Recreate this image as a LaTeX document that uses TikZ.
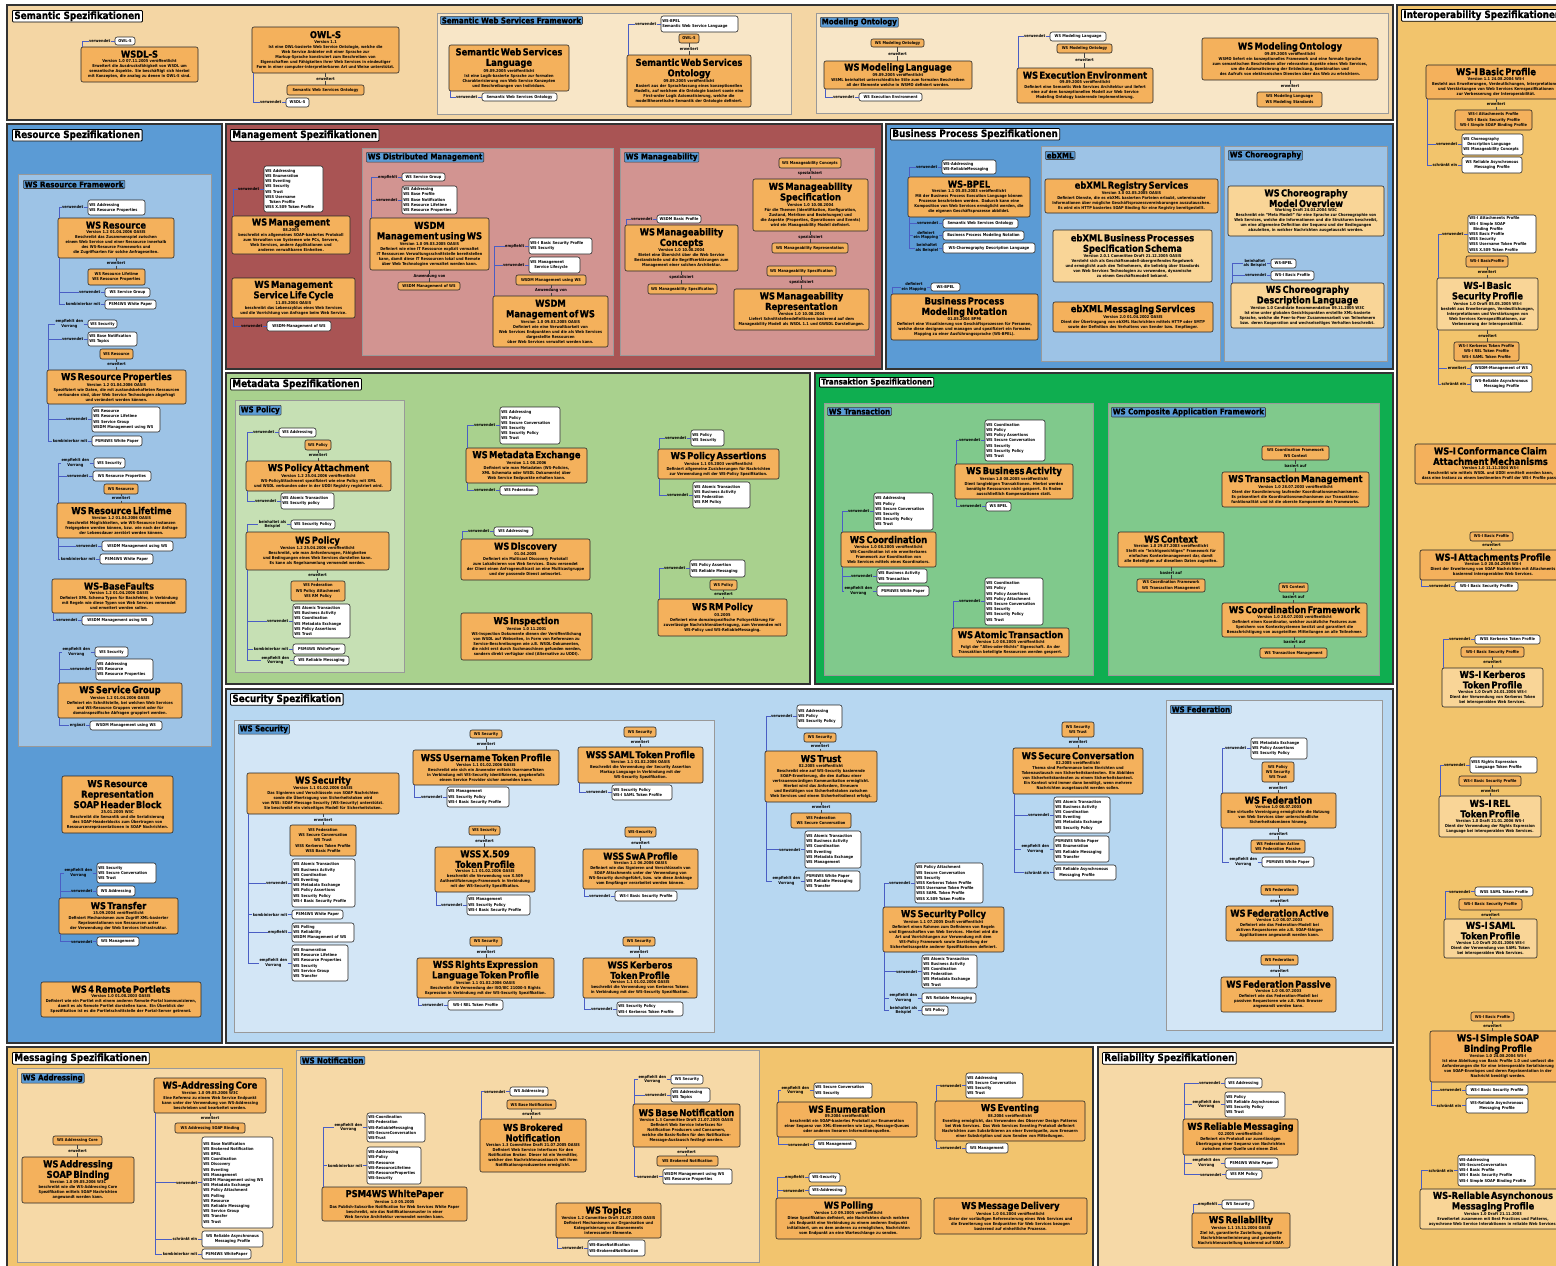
\documentclass[tikz,border=0pt]{standalone}
\usepackage{fontspec}
\setmainfont{DejaVu Sans}[FakeStretch=0.88]
\newfontfamily\heavy{DejaVu Sans}[FakeStretch=0.88, FakeBold=1]
\usetikzlibrary{calc}
\definecolor{orb}{HTML}{F4B15C}
\definecolor{orl}{HTML}{F9D597}
\definecolor{tagb}{HTML}{5B9BD5}
\definecolor{cnc}{HTML}{4A5EC4}
\definecolor{psem}{HTML}{F4D6A4}
\definecolor{psems}{HTML}{F8E6C7}
\definecolor{pint}{HTML}{F2C46C}
\definecolor{pres}{HTML}{5B9BD5}
\definecolor{press}{HTML}{9DC3E6}
\definecolor{pman}{HTML}{A95454}
\definecolor{pmans}{HTML}{D29491}
\definecolor{pmet}{HTML}{A9D18E}
\definecolor{pmets}{HTML}{C6E0B4}
\definecolor{ptra}{HTML}{0FAE50}
\definecolor{ptras}{HTML}{80C98C}
\definecolor{psec}{HTML}{B7D7F1}
\definecolor{psecs}{HTML}{D3E6F6}
\definecolor{pmsg}{HTML}{F2C46E}
\definecolor{pmsgs}{HTML}{F6D9A7}
\definecolor{prel}{HTML}{F6D9A7}
\newcommand{\fntT}{\heavy\bfseries\fontsize{9.5}{10.5}\selectfont}
\newcommand{\fntD}{\bfseries\fontsize{4}{5}\selectfont}
\newcommand{\fntS}{\bfseries\fontsize{4}{5.2}\selectfont}
\newcommand{\fntL}{\bfseries\fontsize{4}{4.6}\selectfont}
\newcommand{\fntG}{\heavy\bfseries\fontsize{8}{9}\selectfont}
\newcommand{\fntP}{\heavy\bfseries\fontsize{10}{11}\selectfont}
\newcommand{\btl}[1]{{\fntT #1\par}}
\newcommand{\mkbox}[7]{%
  \pgfmathsetlengthmacro\bxw{(#5-#3)*1pt}%
  \pgfmathsetlengthmacro\bxh{(#6-#4)*1pt}%
  \pgfmathsetlengthmacro\bxt{(#5-#3-2.6)*1pt}%
  \node[#1, minimum width=\bxw, minimum height=\bxh, text width=\bxt] (#2) at ({(#3+#5)/2},{(#4+#6)/2}) {#7};}
\newcommand{\mkrel}[4]{%
  \node[lbl, anchor=east] (#3l) at ([xshift=-4pt]#3.west) {#4};
  \draw[cnx] ([xshift=1.5pt]#1.#2) |- (#3l.west);
  \draw[cnx] (#3l.east) -- (#3.west);}
\newcommand{\mkext}[4]{%
  \path (#1.south) -- (#1.south |- #2.north) node[lbl, midway] (#4) {#3};
  \draw[cvx] (#1.south) -- (#4.north);
  \draw[cvx] (#4.south) -- (#4.south |- #2.north);}
\tikzset{
 obx/.style={draw=black!85, fill=orb, rounded corners=2pt, line width=0.6pt, inner xsep=1pt, inner ysep=1pt, align=center, font=\fntD},
 lbx/.style={obx, fill=orl},
 osx/.style={obx, font=\fntS},
 wbx/.style={draw=black!85, fill=white, rounded corners=2.2pt, line width=0.6pt, inner xsep=1.3pt, inner ysep=0.8pt, align=left, font=\fntS},
 wcx/.style={wbx, align=center},
 tagx/.style={draw=black!75, fill=tagb, rounded corners=1pt, line width=0.6pt, inner xsep=1.5pt, inner ysep=1pt, font=\fntG, anchor=north west},
 ptx/.style={draw=black, fill=white, rounded corners=1pt, line width=0.8pt, inner xsep=2pt, inner ysep=1pt, font=\fntP, anchor=north west},
 lbl/.style={inner sep=0.3pt, align=center, font=\fntL},
 cnx/.style={draw=cnc, line width=0.6pt},
 cvx/.style={draw=black!75, line width=0.6pt},
 panl/.style={draw=black!80, line width=1.2pt},
 subp/.style={draw=black!40, line width=1pt},
}
\begin{document}
\begin{tikzpicture}[x=1pt,y=-1pt]
\useasboundingbox (0,0) rectangle (1556,1266);
\clip (0,0) rectangle (1556,1266);
\fill[white] (0,0) rectangle (1556,1266);
% ---------------- panels
\filldraw[panl, fill=psem] (7,5) rectangle (1393,120);
\filldraw[panl, fill=pint] (1397,5) rectangle (1562,1272);
\filldraw[panl, fill=pres] (7,124) rectangle (222,1043);
\filldraw[panl, fill=pman] (226,124) rectangle (882,369);
\filldraw[panl, fill=pres] (886,124) rectangle (1393,369);
\filldraw[panl, fill=pmet] (226,373) rectangle (810,684);
\filldraw[panl, fill=ptra] (815,373) rectangle (1393,684);
\filldraw[panl, fill=psec] (226,689) rectangle (1393,1043);
\filldraw[panl, fill=pmsg] (7,1047) rectangle (1093,1272);
\filldraw[panl, fill=prel] (1098,1047) rectangle (1393,1272);
% ---------------- sub panels
\filldraw[subp, fill=psems] (437,13) rectangle (791,114);
\filldraw[subp, fill=psems] (816,13) rectangle (1388,113);
\filldraw[subp, fill=press] (18,174) rectangle (211,746);
\filldraw[subp, fill=pmans] (362,148) rectangle (613,355);
\filldraw[subp, fill=pmans] (620,148) rectangle (874,355);
\filldraw[subp, fill=press] (1041,146) rectangle (1220,361);
\filldraw[subp, fill=press] (1224,146) rectangle (1387,361);
\filldraw[subp, fill=pmets] (235,400) rectangle (404,672);
\filldraw[subp, fill=ptras] (824,403) rectangle (1093,675);
\filldraw[subp, fill=ptras] (1108,403) rectangle (1379,675);
\filldraw[subp, fill=psecs] (234,720) rectangle (714,1032);
\filldraw[subp, fill=psecs] (1166,700) rectangle (1382,1030);
\filldraw[subp, fill=pmsgs] (17,1068) rectangle (282,1262);
\filldraw[subp, fill=pmsgs] (296,1050) rectangle (759,1262);
% ---------------- panel titles
\node[ptx] (tSem) at (12,10) {Semantic Spezifikationen};
\node[ptx] (tInt) at (1401,9) {Interoperability Spezifikationen};
\node[ptx] (tRes) at (12,129) {Resource Spezifikationen};
\node[ptx] (tMan) at (230,129) {Management Spezifikationen};
\node[ptx] (tBus) at (890,128) {Business Process Spezifikationen};
\node[ptx] (tMet) at (230,378) {Metadata Spezifikationen};
\node[ptx, font=\heavy\bfseries\fontsize{8}{9}\selectfont] (tTra) at (819,377) {Transaktion Spezifikationen};
\node[ptx] (tSec) at (230,693) {Security Spezifikation};
\node[ptx] (tMsg) at (12,1052) {Messaging Spezifikationen};
\node[ptx] (tRel) at (1102,1052) {Reliability Spezifikationen};
% ---------------- tags
\node[tagx] (gSWSF) at (440,16) {Semantic Web Services Framework};
\node[tagx] (gMO) at (820,17) {Modeling Ontology};
\node[tagx] (gWSRF) at (23,180) {WS Resource Framework};
\node[tagx] (gWSDM) at (366,152) {WS Distributed Management};
\node[tagx] (gWSMa) at (624,152) {WS Manageability};
\node[tagx] (gEB) at (1045,151) {ebXML};
\node[tagx] (gCho) at (1228,150) {WS Choreography};
\node[tagx] (gPol) at (239,405) {WS Policy};
\node[tagx] (gTx) at (827,407) {WS Transaction};
\node[tagx] (gCAF) at (1111,407) {WS Composite Application Framework};
\node[tagx] (gSec) at (238,724) {WS Security};
\node[tagx] (gFed) at (1170,705) {WS Federation};
\node[tagx] (gAdr) at (21,1073) {WS Addressing};
\node[tagx] (gNot) at (300,1056) {WS Notification};

% ================= SEMANTIC
\mkbox{obx}{wsdls}{81}{47}{198}{82}{\btl{WSDL-S}Version 1.0 07.11.2005 veröffentlicht\\Erweitert die Ausdrucksfähigkeit von WSDL um\\semantische Aspekte. Sie beschäftigt sich hierbei\\mit Konzepten, die analog zu denen in OWL-S sind.}
\mkbox{wcx}{wsdlsA}{115}{37}{135}{45}{OWL-S}
\mkrel{wsdls}{north west}{wsdlsA}{verwendet}

\mkbox{obx}{owls}{252}{27}{399}{73}{\btl{OWL-S}Version 1.1\\Ist eine OWL-basierte Web Service Ontologie, welche die\\Web Service Anbieter mit einer Sprache zur\\Markup-Sprache konstruiert zum Beschreiben von\\Eigenschaften und Fähigkeiten ihrer Web Services in eindeutiger\\Form in einer computer-interpretierbaren Art und Weise unterstützt.}
\mkbox{osx}{owlsB}{287}{85}{364}{95}{Semantic Web Services Ontology}
\mkext{owls}{owlsB}{erweitert}{owlsE}
\mkbox{wcx}{owlsA}{286}{98}{309}{107}{WSDL-S}
\mkrel{owls}{south west}{owlsA}{verwendet}

\mkbox{obx}{swsl}{449}{45}{569}{91}{\btl{Semantic Web Services\\Language}09.09.2005 veröffentlicht\\Ist eine Logik-basierte Sprache zur formalen\\Charakterisierung von Web Service Konzepten\\und Beschreibungen von Individuen.}
\mkbox{wcx}{swslA}{482}{93}{557}{101}{Semantic Web Services Ontology}
\mkrel{swsl}{south west}{swslA}{verwendet}

\mkbox{obx}{swso}{627}{55}{751}{107}{\btl{Semantic Web Services\\Ontology}09.09.2005 veröffentlicht\\Basiert aus der Sprachfassung eines konzeptionellen\\Modells, auf welchem die Ontologie basiert sowie eine\\First-order Logik Axiomatisierung, welche die\\modelltheoretische Semantik der Ontologie definiert.}
\mkbox{osx}{swsoB}{679}{34}{699}{43}{OWL-S}
\mkext{swsoB}{swso}{erweitert}{swsoE}
\mkbox{wbx}{swsoA}{661}{16}{738}{32}{WS-BPEL\\Semantic Web Service Language}
\mkrel{swso}{north west}{swsoA}{verwendet}

\mkbox{obx}{wsml}{824}{61}{972}{89}{\btl{WS Modeling Language}09.09.2005 veröffentlicht\\WSML beinhaltet unterschiedliche Stile zum formalen Beschreiben\\all der Elemente welche in WSMO definiert werden.}
\mkbox{osx}{wsmlB}{871}{39}{924}{47}{WS Modeling Ontology}
\mkext{wsmlB}{wsml}{erweitert}{wsmlE}
\mkbox{wcx}{wsmlA}{859}{93}{922}{101}{WS Execution Environment}
\mkrel{wsml}{south west}{wsmlA}{verwendet}

\mkbox{obx}{wsee}{1017}{68}{1153}{103}{\btl{WS Execution Environment}09.09.2005 veröffentlicht\\Definiert eine Semantic Web Services Architektur und liefert\\eine auf dem konzeptionellen Modell zur Web Service\\Modeling Ontology basierende Implementierung.}
\mkbox{wcx}{wseeA}{1050}{32}{1106}{41}{WS Modeling Language}
\mkbox{osx}{wseeB}{1057}{44}{1112}{53}{WS Modeling Ontology}
\mkext{wseeB}{wsee}{erweitert}{wseeE}
\mkrel{wsee}{north west}{wseeA}{verwendet}

\mkbox{obx}{wsmo}{1202}{38}{1378}{80}{\btl{WS Modeling Ontology}09.09.2005 veröffentlicht\\WSMO liefert ein konzeptionelles Framework und eine formale Sprache\\zum semantischen Beschreiben aller relevanten Aspekte eines Web Services,\\um die Automatisierung der Entdeckung, Kombination und\\des Aufrufs von elektronischen Diensten über das Web zu erleichtern.}
\mkbox{osx}{wsmoB}{1257}{92}{1322}{107}{WS Modeling Language\\WS Modeling Standards}
\mkext{wsmo}{wsmoB}{erweitert}{wsmoE}

% ================= INTEROPERABILITY
\mkbox{obx}{wsibp}{1426}{65}{1566}{99}{\btl{WS-I Basic Profile}Version 1.1 24.08.2004 WS-I\\Besteht aus Erweiterungen, Verdeutlichungen, Interpretationen\\und Verstärkungen von Web Services Kernspezifikationen\\zur Verbesserung der Interoperabilität.}
\mkbox{osx}{wsibpB}{1455}{110}{1532}{130}{WS-I Attachments Profile\\WS-I Basic Security Profile\\WS-I Simple SOAP Binding Profile}
\mkext{wsibp}{wsibpB}{erweitert}{wsibpE}
\mkbox{wbx}{wsibpA}{1462}{134}{1523}{155}{WS Choreography\\\quad Description Language\\WS Manageability Concepts}
\mkbox{wcx}{wsibpC}{1462}{157}{1522}{173}{WS Reliable Asynchronous\\Messaging Profile}
\mkrel{wsibp}{south west}{wsibpA}{verwendet}
\mkrel{wsibp}{south west}{wsibpC}{schränkt ein}

\mkbox{lbx}{wsibsp}{1437}{278}{1538}{330}{\btl{WS-I Basic\\Security Profile}Version 1.0 Draft 05.05.2005 WS-I\\besteht aus Erweiterungen, Verdeutlichungen,\\Interpretationen und Verstärkungen von\\Web Services Kernspezifikationen, zur\\Verbesserung der Interoperabilität.}
\mkbox{osx}{wsibspB}{1466}{256}{1508}{267}{WS-I BasicProfile}
\mkext{wsibspB}{wsibsp}{erweitert}{wsibspE}
\mkbox{wbx}{wsibspA}{1468}{215}{1536}{253}{WS-I Attachments Profile\\WS-I Simple SOAP\\\quad Binding Profile\\WSS Basic Profile\\WSS Security\\WSS Username Token Profile\\WSS X.509 Token Profile}
\mkrel{wsibsp}{north west}{wsibspA}{verwendet}
\mkbox{osx}{wsibspC}{1454}{342}{1519}{361}{WS-I Kerberos Token Profile\\WS-I REL Token Profile\\WS-I SAML Token Profile}
\mkext{wsibsp}{wsibspC}{erweitert}{wsibspF}
\mkbox{wcx}{wsibspD}{1471}{364}{1532}{373}{WSDM-Management of WS}
\mkbox{wcx}{wsibspG}{1471}{376}{1532}{392}{WS-Reliable Asynchronous\\Messaging Profile}
\mkrel{wsibsp}{south west}{wsibspD}{erweitert}
\mkrel{wsibsp}{south west}{wsibspG}{schränkt ein}

\mkbox{obx}{wsicc}{1415}{444}{1566}{484}{\btl{WS-I Conformance Claim\\Attachment Mechanisms}Version 1.0 11.11.2004 WS-I\\Beschreibt wie mittels WSDL und UDDI ermittelt werden kann,\\dass eine Instanz zu einem bestimmten Profil der WS-I Profile passt.}

\mkbox{obx}{wsiap}{1420}{550}{1566}{580}{\btl{WS-I Attachments Profile}Version 1.0 20.04.2006 WS-I\\Dient der Erweiterung von SOAP Nachrichten mit Attachments\\basierend interoperablen Web Services.}
\mkbox{osx}{wsiapB}{1470}{532}{1513}{541}{WS-I Basic Profile}
\mkext{wsiapB}{wsiap}{erweitert}{wsiapE}
\mkbox{wcx}{wsiapA}{1455}{582}{1518}{591}{WS-I Basic Security Profile}
\mkrel{wsiap}{south west}{wsiapA}{verwendet}

\mkbox{lbx}{wsikt}{1442}{668}{1543}{707}{\btl{WS-I Kerberos\\Token Profile}Version 1.0 Draft 24.01.2006 WS-I\\Dient der Verwendung von Kerberos Token\\bei interoperablen Web Services.}
\mkbox{wcx}{wsiktA}{1475}{635}{1540}{644}{WSS Kerberos Token Profile}
\mkbox{osx}{wsiktB}{1461}{647}{1524}{657}{WS-I Basic Security Profile}
\mkext{wsiktB}{wsikt}{erweitert}{wsiktE}
\mkrel{wsikt}{north west}{wsiktA}{verwendet}

\mkbox{lbx}{wsirel}{1439}{796}{1541}{837}{\btl{WS-I REL\\Token Profile}Version 1.0 Draft 21.01.2006 WS-I\\Dient der Verwendung der Rights Expression\\Language bei interoperablen Web Services.}
\mkbox{wbx}{wsirelA}{1470}{757}{1537}{773}{WSS Rights Expression\\\quad Language Token Profile}
\mkbox{osx}{wsirelB}{1459}{776}{1521}{786}{WS-I Basic Security Profile}
\mkext{wsirelB}{wsirel}{erweitert}{wsirelE}
\mkrel{wsirel}{north west}{wsirelA}{verwendet}

\mkbox{lbx}{wsisaml}{1444}{919}{1537}{958}{\btl{WS-I SAML\\Token Profile}Version 1.0 Draft 20.01.2006 WS-I\\Dient der Verwendung von SAML Token\\bei interoperablen Web Services.}
\mkbox{wcx}{wsisamlA}{1475}{887}{1533}{896}{WSS SAML Token Profile}
\mkbox{osx}{wsisamlB}{1459}{899}{1522}{910}{WS-I Basic Security Profile}
\mkext{wsisamlB}{wsisaml}{erweitert}{wsisamlE}
\mkrel{wsisaml}{north west}{wsisamlA}{verwendet}

\mkbox{obx}{wsissbp}{1430}{1031}{1566}{1082}{\btl{WS-I Simple SOAP\\Binding Profile}Version 1.0 24.08.2004 WS-I\\Ist eine Ableitung von Basic Profile 1.0 und umfasst die\\Anforderungen die für eine interoperable Serialisierung\\von SOAP-Envelopes und deren Repräsentation in der\\Nachricht benötigt werden.}
\mkbox{osx}{wsissbpB}{1471}{1012}{1514}{1021}{WS-I Basic Profile}
\mkext{wsissbpB}{wsissbp}{erweitert}{wsissbpE}
\mkbox{wcx}{wsissbpA}{1466}{1085}{1528}{1095}{WS-I Basic Security Profile}
\mkbox{wcx}{wsissbpC}{1466}{1098}{1528}{1113}{WS-Reliable Asynchronous\\Messaging Profile}
\mkrel{wsissbp}{south west}{wsissbpA}{verwendet}
\mkrel{wsissbp}{south west}{wsissbpC}{schränkt ein}

\mkbox{lbx}{wsramp}{1420}{1189}{1566}{1229}{\btl{WS-Reliable Asynchonous\\Messaging Profile}Version 1.0 Draft 21.11.2003\\Erweitertet zusammen mit Best Practices und Patterns,\\asynchrone Web Service Interaktionen in reliable Web Services.}
\mkbox{wbx}{wsrampA}{1458}{1155}{1535}{1186}{WS-Addressing\\WS-SecureConversation\\WS-I Basic Profile\\WS-I Basic Security Profile\\WS-I Simple SOAP Binding Profile}
\mkrel{wsramp}{north west}{wsrampA}{schränkt ein}

% ================= RESOURCE
\mkbox{obx}{wsr}{58}{218}{174}{258}{\btl{WS Resource}Version 1.2 01.04.2006 OASIS\\Beschreibt das Zusammenspiel zwischen\\einem Web Service und einer Ressource innerhalb\\des WS-Resource Frameworks und\\die Zugriffsarten für solche Anfrageseiten.}
\mkbox{wbx}{wsrA}{88}{200}{145}{215}{WS Addressing\\WS Resource Properties}
\mkrel{wsr}{north west}{wsrA}{verwendet}
\mkbox{osx}{wsrB}{88}{269}{145}{285}{WS Resource Lifetime\\WS Resource Properties}
\mkext{wsr}{wsrB}{erweitert}{wsrE}
\mkbox{wcx}{wsrC}{105}{288}{150}{297}{WS Service Group}
\mkbox{wcx}{wsrD}{105}{300}{156}{309}{PSM4WS White Paper}
\mkrel{wsr}{south west}{wsrC}{verwendet}
\mkrel{wsr}{south west}{wsrD}{kombinierbar mit}

\mkbox{obx}{wsrp}{47}{370}{186}{404}{\btl{WS Resource Properties}Version 1.2 01.04.2006 OASIS\\Spezifiziert wie Daten, die mit zustandsbehafteten Ressourcen\\verbunden sind, über Web Service Technologien abgefragt\\und verändert werden können.}
\mkbox{wcx}{wsrpA}{88}{320}{117}{328}{WS Security}
\mkbox{wbx}{wsrpB}{88}{332}{137}{346}{WS Base Notification\\WS Topics}
\mkbox{osx}{wsrpC}{100}{349}{133}{359}{WS Resource}
\mkext{wsrpC}{wsrp}{erweitert}{wsrpE}
\mkrel{wsrp}{north west}{wsrpA}{empfiehlt den\\Vorrang}
\mkrel{wsrp}{north west}{wsrpB}{verwendet}
\mkbox{wbx}{wsrpD}{92}{407}{160}{432}{WS Resource\\WS Resource Lifetime\\WS Service Group\\WSDM Management using WS}
\mkbox{wcx}{wsrpF}{92}{436}{142}{446}{PSM4WS White Paper}
\mkrel{wsrp}{south west}{wsrpD}{verwendet}
\mkrel{wsrp}{south west}{wsrpF}{kombinierbar mit}

\mkbox{obx}{wsrl}{57}{503}{186}{538}{\btl{WS Resource Lifetime}Version 1.2 01.04.2006 OASIS\\Beschreibt Möglichkeiten, wie WS-Resource Instanzen\\freigegeben werden können, bzw. wie nach der Anfrage\\der Lebensdauer zerstört werden können.}
\mkbox{wcx}{wsrlA}{94}{458}{125}{468}{WS Security}
\mkbox{wcx}{wsrlB}{93}{471}{151}{481}{WS Resource Properties}
\mkbox{osx}{wsrlC}{104}{484}{138}{494}{WS Resource}
\mkext{wsrlC}{wsrl}{erweitert}{wsrlE}
\mkrel{wsrl}{north west}{wsrlA}{empfiehlt den\\Vorrang}
\mkrel{wsrl}{north west}{wsrlB}{verwendet}
\mkbox{wcx}{wsrlD}{102}{541}{173}{551}{WSDM Management using WS}
\mkbox{wcx}{wsrlF}{100}{554}{153}{564}{PSM4WS White Paper}
\mkrel{wsrl}{south west}{wsrlD}{verwendet}
\mkrel{wsrl}{south west}{wsrlF}{kombinierbar mit}

\mkbox{obx}{wsbf}{52}{579}{186}{613}{\btl{WS-BaseFaults}Version 1.2 01.04.2006 OASIS\\Definiert XML Schema Typen für Basisfehler, in Verbindung\\mit Regeln wie diese Typen von Web Services verwendet\\und erweitert werden sollen.}
\mkbox{wcx}{wsbfA}{82}{616}{153}{625}{WSDM Management using WS}
\mkrel{wsbf}{south west}{wsbfA}{verwendet}

\mkbox{obx}{wssg}{58}{683}{182}{718}{\btl{WS Service Group}Version 1.2 01.04.2006 OASIS\\Definiert ein Schnittstelle, bei welchen Web Services\\und WS-Resource Gruppen vereint oder für\\domainspezifische Abfragen gruppiert werden.}
\mkbox{wcx}{wssgA}{95}{647}{128}{657}{WS Security}
\mkbox{wbx}{wssgB}{96}{659}{153}{680}{WS Addressing\\WS Resource\\WS Resource Properties}
\mkrel{wssg}{north west}{wssgA}{empfiehlt den\\Vorrang}
\mkrel{wssg}{north west}{wssgB}{verwendet}
\mkbox{wcx}{wssgC}{90}{721}{162}{730}{WSDM Management using WS}
\mkrel{wssg}{south west}{wssgC}{ergänzt}

\mkbox{obx}{wsrr}{62}{776}{173}{833}{\btl{WS Resource\\Representation\\SOAP Header Block}25.01.2005 W3C\\Beschreibt die Semantik und die Serialisierung\\des SOAP-Headerblocks zum Übertragen von\\Ressourcenrepräsentationen in SOAP Nachrichten.}

\mkbox{obx}{wstr}{59}{898}{178}{934}{\btl{WS Transfer}15.09.2004 veröffentlicht\\Definiert Mechanismen zum Zugriff XML-basierter\\Repräsentationen von Ressourcen unter\\der Verwendung der Web Services Infrastruktur.}
\mkbox{wbx}{wstrA}{97}{863}{156}{883}{WS Security\\WS Secure Conversation\\WS Trust}
\mkbox{wcx}{wstrB}{97}{886}{135}{896}{WS Addressing}
\mkrel{wstr}{north west}{wstrA}{empfiehlt den\\Vorrang}
\mkrel{wstr}{north west}{wstrB}{verwendet}
\mkbox{wcx}{wstrC}{97}{937}{139}{946}{WS Management}
\mkrel{wstr}{south west}{wstrC}{verwendet}

\mkbox{obx}{wsrpt}{41}{982}{201}{1017}{\btl{WS 4 Remote Portlets}Version 1.0 01.08.2003 OASIS\\Definiert wie ein Portlet mit einem anderen Remote-Portal kommunizieren,\\damit es als Remote Portlet darstellen kann. Ein Überblick der\\Spezifikation ist es die Portletschnittstelle der Portal-Server getrennt.}

% ================= MANAGEMENT
\mkbox{obx}{wsm}{232}{216}{350}{254}{\btl{WS Management}08.2005\\beschreibt ein allgemeines SOAP-basiertes Protokoll\\zum Verwalten von Systemen wie PCs, Servern,\\Web Services, andere Applikationen und\\anderen verwaltbaren Einheiten.}
\mkbox{wbx}{wsmA}{264}{166}{323}{212}{WS Addressing\\WS Enumeration\\WS Eventing\\WS Security\\WS Trust\\WSS Username\\\quad Token Profile\\WSS X.509 Token Profile}
\mkrel{wsm}{north west}{wsmA}{verwendet}

\mkbox{obx}{wsmslc}{232}{278}{355}{318}{\btl{WS Management\\Service Life Cycle}11.05.2004 OASIS\\beschreibt das Lebenszyklus eines Web Services\\und die Vorrichtung von Anfragen beim Web Service.}
\mkbox{wcx}{wsmslcA}{267}{321}{331}{331}{WSDM-Management of WS}
\mkrel{wsmslc}{south west}{wsmslcA}{verwendet}

\mkbox{obx}{muws}{370}{218}{489}{270}{\btl{WSDM\\Management using WS}Version 1.0 09.03.2005 OASIS\\Definiert wie eine IT Ressource explizit verwaltet\\IT Ressourcen Verwaltungsschnittstelle bereitstellen\\kann, damit diese IT Ressourcen lokal und Remote\\über Web Technologien verwaltet werden kann.}
\mkbox{wcx}{muwsA}{402}{173}{445}{181}{WS Service Group}
\mkbox{wbx}{muwsB}{402}{186}{457}{214}{WS Addressing\\WS Base Profile\\WS Base Notification\\WS Resource Lifetime\\WS Resource Properties}
\mkrel{muws}{north west}{muwsA}{empfiehlt}
\mkrel{muws}{north west}{muwsB}{verwendet}
\mkbox{osx}{muwsC}{398}{282}{460}{290}{WSDM Management of WS}
\mkext{muws}{muwsC}{Anwendung von}{muwsE}

\mkbox{obx}{mows}{493}{296}{608}{347}{\btl{WSDM\\Management of WS}Version 1.0 09.03.2005 OASIS\\Definiert wie eine Verwaltbarkeit von\\Web Services Endpunkten und die als Web Services\\dargestellte Ressourcen\\über Web Services verwaltet werden kann.}
\mkbox{wbx}{mowsA}{529}{238}{592}{254}{WS-I Basic Security Profile\\WS Security}
\mkbox{wbx}{mowsB}{529}{257}{580}{273}{WS Management\\\quad Service Lifecycle}
\mkbox{osx}{mowsC}{516}{275}{586}{285}{WSDM Management using WS}
\mkext{mowsC}{mows}{Anwendung von}{mowsE}
\mkrel{mows}{north west}{mowsA}{empfiehlt}
\mkrel{mows}{north west}{mowsB}{verwendet}

\mkbox{obx}{wsmc}{625}{225}{738}{271}{\btl{WS Manageability\\Concepts}Version 1.0 10.08.2004\\Bietet eine Übersicht über die Web Service\\Bestandsteile und die Begriffserklärungen zum\\Management einer solchen Architektur.}
\mkbox{wcx}{wsmcA}{657}{215}{701}{223}{WSDM Basic Profile}
\mkrel{wsmc}{north west}{wsmcA}{verwendet}
\mkbox{osx}{wsmcB}{648}{284}{717}{294}{WS Manageability Specification}
\mkext{wsmc}{wsmcB}{spezialisiert}{wsmcE}

\mkbox{obx}{wsms}{753}{179}{868}{231}{\btl{WS Manageability\\Specification}Version 1.0 10.08.2004\\Für die Themen (Identifikation, Konfiguration,\\Zustand, Metriken und Beziehungen) und\\die Aspekte (Properties, Operationen und Events)\\wird ein Manageability Modell definiert.}
\mkbox{osx}{wsmsB}{779}{158}{841}{168}{WS Manageability Concepts}
\mkext{wsmsB}{wsms}{spezialisiert}{wsmsE}
\mkbox{osx}{wsmsC}{772}{243}{848}{253}{WS Manageability Representation}
\mkext{wsms}{wsmsC}{spezialisiert}{wsmsF}

\mkbox{obx}{wsmr}{734}{289}{869}{330}{\btl{WS Manageability\\Representation}Version 1.0 10.08.2004\\Liefert Schnittstellendefinitionen basierend auf dem\\Manageability Modell als WSDL 1.1 und GWSDL Darstellungen.}
\mkbox{osx}{wsmrB}{767}{266}{836}{276}{WS Manageability Specification}
\mkext{wsmrB}{wsmr}{spezialisiert}{wsmrE}

% ================= BUSINESS PROCESS
\mkbox{obx}{bpel}{908}{177}{1030}{217}{\btl{WS-BPEL}Version 1.1 05.05.2003 veröffentlicht\\Mit der Business Process Execution Language können\\Prozesse beschrieben werden. Dadurch kann eine\\Komposition von Web Services ermöglicht werden, die\\die eigenen Geschäftsprozesse abbildet.}
\mkbox{wbx}{bpelA}{942}{160}{996}{174}{WS-Addressing\\WS-ReliableMessaging}
\mkrel{bpel}{north west}{bpelA}{verwendet}
\mkbox{wcx}{bpelB}{943}{219}{1018}{228}{Semantic Web Services Ontology}
\mkbox{wcx}{bpelC}{943}{231}{1024}{240}{Business Process Modeling Notation}
\mkbox{wcx}{bpelD}{943}{243}{1035}{253}{WS-Choreography Description Language}
\mkrel{bpel}{south west}{bpelB}{verwendet}
\mkrel{bpel}{south west}{bpelC}{definiert\\ein Mapping}
\mkrel{bpel}{south west}{bpelD}{beinhaltet\\als Beispiel}

\mkbox{obx}{bpmn}{891}{294}{1038}{340}{\btl{Business Process\\Modeling Notation}01.05.2004 BPMI\\Definiert eine Visualisierung von Geschäftsprozessen für Personen,\\welche diese designen und managen und spezifiziert ein formales\\Mapping zu einer Ausführungssprache (WS-BPEL).}
\mkbox{wcx}{bpmnA}{931}{283}{960}{291}{WS-BPEL}
\mkrel{bpmn}{north west}{bpmnA}{definiert\\ein Mapping}

\mkbox{obx}{ebrs}{1045}{179}{1218}{213}{\btl{ebXML Registry Services}Version 3.0 02.05.2005 OASIS\\Definiert Dienste, die es ebXML basierten Parteien erlaubt, untereinander\\Informationen über mögliche Geschäftsprozessvereinbarungen auszutauschen.\\Es wird ein HTTP basiertes SOAP Binding für eine Registry bereitgestellt.}
\mkbox{lbx}{ebbp}{1053}{230}{1212}{282}{\btl{ebXML Business Processes\\Specification Schema}Version 2.0.1 Committee Draft 21.12.2005 OASIS\\Versteht sich als Geschäftsmodell-übergreifendes Regelwerk\\und ermöglicht auch den Teilnehmern, die beliebig über Standards\\von Web Services Technologien zu verwenden, dynamische\\zu einem Geschäftsmodell bekannt.}
\mkbox{obx}{ebms}{1053}{302}{1213}{332}{\btl{ebXML Messaging Services}Version 2.0 01.04.2002 OASIS\\Dient der Übertragung von ebXML Nachrichten mittels HTTP oder SMTP\\sowie der Definition des Verhaltens von Sender bzw. Empfänger.}

\mkbox{lbx}{wscmo}{1228}{186}{1384}{236}{\btl{WS Choreography\\Model Overview}Working Draft 24.03.2004 W3C\\Beschreibt ein "Meta Modell" für eine Sprache zur Choreographie von\\Web Services, welche die Informationen und die Strukturen beschreibt,\\um eine allgemeine Definition der Sequenz und der Bedingungen\\abzuleiten, in welcher Nachrichten ausgetauscht werden.}
\mkbox{lbx}{wscdl}{1231}{283}{1384}{328}{\btl{WS Choreography\\Description Language}Version 1.0 Candidate Recommendation 09.11.2005 W3C\\Ist eine unter globalen Gesichtspunkten erstellte XML-basierte\\Sprache, welche die Peer-to-Peer Zusammenarbeit von Teilnehmern\\bzw. deren Kooperation und wechselseitiges Verhalten beschreibt.}
\mkbox{wcx}{wscdlA}{1271}{259}{1296}{268}{WS-BPEL}
\mkbox{wcx}{wscdlB}{1271}{271}{1314}{280}{WS-I Basic Profile}
\mkrel{wscdl}{north west}{wscdlA}{beinhaltet\\als Beispiel}
\mkrel{wscdl}{north west}{wscdlB}{verwendet}

% ================= METADATA
\mkbox{obx}{wspa}{246}{461}{391}{491}{\btl{WS Policy Attachment}Version 1.2 25.04.2006 veröffentlicht\\WS-PolicyAttachment spezifiziert wie eine Policy mit XML\\und WSDL verbunden oder in der UDDI Registry registriert wird.}
\mkbox{wcx}{wspaA}{279}{428}{316}{437}{WS Addressing}
\mkbox{osx}{wspaB}{305}{440}{331}{450}{WS Policy}
\mkext{wspaB}{wspa}{erweitert}{wspaE}
\mkrel{wspa}{north west}{wspaA}{verwendet}
\mkbox{wbx}{wspaC}{281}{493}{334}{509}{WS Atomic Transaction\\WS Security policy}
\mkrel{wspa}{south west}{wspaC}{verwendet}

\mkbox{obx}{wsp}{246}{532}{389}{570}{\btl{WS Policy}Version 1.2 25.04.2006 veröffentlicht\\Beschreibt, wie man Anforderungen, Fähigkeiten\\und Bedingungen eines Web Services darstellen kann.\\Es kann als Regelsammlung verwendet werden.}
\mkbox{wcx}{wspA}{291}{520}{335}{529}{WS Security Policy}
\mkrel{wsp}{north west}{wspA}{beinhaltet als\\Beispiel}
\mkbox{osx}{wspB}{291}{581}{345}{601}{WS Federation\\WS Policy Attachment\\WS RM Policy}
\mkext{wsp}{wspB}{erweitert}{wspE}
\mkbox{wbx}{wspC}{293}{604}{350}{638}{WS Atomic Transaction\\WS Business Activity\\WS Coordination\\WS Metadata Exchange\\WS Policy Assertions\\WS Trust}
\mkbox{wcx}{wspD}{293}{644}{345}{654}{PSM4WS WhitePaper}
\mkbox{wcx}{wspF}{294}{656}{349}{665}{WS Reliable Messaging}
\mkrel{wsp}{south west}{wspC}{verwendet}
\mkrel{wsp}{south west}{wspD}{kombinierbar mit}
\mkrel{wsp}{south west}{wspF}{empfiehlt den\\Vorrang}

\mkbox{obx}{wsmex}{466}{448}{587}{483}{\btl{WS Metadata Exchange}Version 1.1 08.2006\\Definiert wie man Metadaten (WS-Policies,\\XML Schemata oder WSDL Dokumente) über\\Web Service Endpunkte erhalten kann.}
\mkbox{wbx}{wsmexA}{500}{407}{560}{444}{WS Addressing\\WS Policy\\WS Secure Conversation\\WS Security\\WS Security Policy\\WS Trust}
\mkbox{wcx}{wsmexB}{500}{486}{538}{495}{WS Federation}
\mkrel{wsmex}{north west}{wsmexA}{verwendet}
\mkrel{wsmex}{south west}{wsmexB}{verwendet}

\mkbox{obx}{wsd}{461}{539}{590}{580}{\btl{WS Discovery}01.04.2005\\Definiert ein Multicast Discovery Protokoll\\zum Lokalisieren von Web Services. Dazu versendet\\der Client einen Anfragemulticast an eine Multicastgruppe\\und der passende Dienst antwortet.}
\mkbox{wcx}{wsdA}{494}{527}{533}{536}{WS Addressing}
\mkrel{wsd}{north west}{wsdA}{verwendet}

\mkbox{obx}{wsi}{461}{613}{592}{660}{\btl{WS Inspection}Version 1.0 11.2001\\WS-Inspection Dokumente dienen der Veröffentlichung\\von WSDL auf Webseiten, in Form von Referenzen zu\\Service-Beschreibungen wie z.B. WSDL-Dokumenten,\\die nicht erst durch Suchmaschinen gefunden werden,\\sondern direkt verfügbar sind (Alternative zu UDDI).}

\mkbox{obx}{wspas}{658}{449}{779}{479}{\btl{WS Policy Assertions}Version 1.1 05.2003 veröffentlicht\\Definiert allgemeine Zusicherungen für Nachrichten\\zur Verwendung mit der WS-Policy Spezifikation.}
\mkbox{wbx}{wspasA}{691}{430}{724}{446}{WS Policy\\WS Security}
\mkbox{wbx}{wspasB}{693}{482}{750}{508}{WS Atomic Transaction\\WS Business Activity\\WS Federation\\WS RM Policy}
\mkrel{wspas}{north west}{wspasA}{verwendet}
\mkrel{wspas}{south west}{wspasB}{verwendet}

\mkbox{obx}{wsrmp}{658}{599}{787}{636}{\btl{WS RM Policy}03.2005\\Definiert eine domainspezifische Policyerklärung für\\zuverlässige Nachrichtenübertragung, zum Verwenden mit\\WS-Policy und WS-ReliableMessaging.}
\mkbox{wbx}{wsrmpA}{690}{560}{745}{577}{WS Policy Assertion\\WS Reliable Messaging}
\mkbox{osx}{wsrmpB}{710}{580}{737}{590}{WS Policy}
\mkext{wsrmpB}{wsrmp}{erweitert}{wsrmpE}
\mkrel{wsrmp}{north west}{wsrmpA}{verwendet}

% ================= TRANSAKTION
\mkbox{obx}{wscoor}{841}{532}{936}{567}{\btl{WS Coordination}Version 1.0 08.2005 veröffentlicht\\WS-Coordination ist ein erweiterbares\\Framework zur Koordination von\\Web Services mittels eines Koordinators.}
\mkbox{wbx}{wscoorA}{874}{493}{933}{530}{WS Addressing\\WS Policy\\WS Secure Conversation\\WS Security\\WS Security Policy\\WS Trust}
\mkbox{wbx}{wscoorB}{877}{569}{927}{583}{WS Business Activity\\WS Transaction}
\mkbox{wcx}{wscoorC}{877}{586}{929}{596}{PSM4WS White Paper}
\mkrel{wscoor}{north west}{wscoorA}{verwendet}
\mkrel{wscoor}{south west}{wscoorB}{verwendet}
\mkrel{wscoor}{south west}{wscoorC}{empfiehlt den\\Vorrang}

\mkbox{obx}{wsba}{955}{464}{1073}{499}{\btl{WS Business Activity}Version 1.0 08.2005 veröffentlicht\\Dient langlebigen Transaktionen. Hierbei werden\\benötigte Ressourcen nicht gesperrt. Es finden\\ausschließlich Kompensationen statt.}
\mkbox{wbx}{wsbaA}{985}{420}{1045}{461}{WS Coordination\\WS Policy\\WS Policy Assertions\\WS Secure Conversation\\WS Security\\WS Security Policy\\WS Trust}
\mkbox{wcx}{wsbaB}{986}{502}{1011}{511}{WS BPEL}
\mkrel{wsba}{north west}{wsbaA}{verwendet}
\mkrel{wsba}{south west}{wsbaB}{verwendet}

\mkbox{obx}{wsat}{952}{628}{1069}{657}{\btl{WS Atomic Transaction}Version 1.0 08.2005 veröffentlicht\\Folgt der "Alles-oder-Nichts" Eigenschaft. An der\\Transaktion beteiligte Ressourcen werden gesperrt.}
\mkbox{wbx}{wsatA}{985}{578}{1043}{625}{WS Coordination\\WS Policy\\WS Policy Assertions\\WS Policy Attachment\\WS Secure Conversation\\WS Security\\WS Security Policy\\WS Trust}
\mkrel{wsat}{north west}{wsatA}{verwendet}

\mkbox{obx}{wstm}{1222}{472}{1369}{507}{\btl{WS Transaction Management}Version 1.0 28.07.2003 veröffentlicht\\Dient der Koordinierung laufender Koordinationsmechanismen.\\Es präsentiert die Koordinationsmechanismen zur Transaktions-\\funktionalität und ist die oberste Komponente des Frameworks.}
\mkbox{osx}{wstmB}{1262}{446}{1329}{460}{WS Coordination Framework\\WS Context}
\mkext{wstmB}{wstm}{basiert auf}{wstmE}

\mkbox{obx}{wsctx}{1118}{532}{1224}{567}{\btl{WS Context}Version 1.0 29.07.2003 veröffentlicht\\Stellt ein "leichtgewichtiges" Framework für\\einfaches Kontextmanagement dar, damit\\alle Beteiligten auf dieselben Daten zugreifen.}
\mkbox{osx}{wsctxB}{1137}{579}{1205}{592}{WS Coordination Framework\\WS Transaction Management}
\mkext{wsctx}{wsctxB}{basiert auf}{wsctxE}

\mkbox{obx}{wscf}{1222}{603}{1367}{637}{\btl{WS Coordination Framework}Version 1.0 28.07.2003 veröffentlicht\\Definiert einen Koordinator, welcher zusätzliche Features zum\\Speichern von Kontextsystemen besitzt und garantiert die\\Benachrichtigung von ausgeteilten Mitteilungen an alle Teilnehmer.}
\mkbox{osx}{wscfB}{1279}{583}{1308}{592}{WS Context}
\mkext{wscfB}{wscf}{basiert auf}{wscfE}
\mkbox{osx}{wscfC}{1260}{648}{1327}{658}{WS Transaction Management}
\mkext{wscf}{wscfC}{basiert auf}{wscfF}

% ================= SECURITY
\mkbox{obx}{wss}{247}{773}{399}{814}{\btl{WS Security}Version 1.1 01.02.2006 OASIS\\Das Signieren und Verschlüsseln von SOAP Nachrichten\\sowie die Übertragung von Sicherheitstoken wird\\von WSS: SOAP Message Security (WS-Security) unterstützt.\\Sie beschreibt ein vielseitiges Modell für Sicherheitstoken.}
\mkbox{osx}{wssB}{290}{825}{356}{856}{WS Federation\\WS Secure Conversation\\WS Trust\\WSS Kerberos Token Profile\\WSS Basic Profile}
\mkext{wss}{wssB}{erweitert}{wssE}
\mkbox{wbx}{wssC}{292}{859}{355}{907}{WS Atomic Transaction\\WS Business Activity\\WS Coordination\\WS Eventing\\WS Metadata Exchange\\WS Policy Assertions\\WS Security Policy\\WS-I Basic Security Profile}
\mkbox{wcx}{wssD}{292}{910}{343}{919}{PSM4WS White Paper}
\mkbox{wbx}{wssF}{292}{923}{354}{942}{WS Polling\\WS Reliability\\WSDM Management of WS}
\mkbox{wbx}{wssG}{292}{945}{348}{981}{WS Enumeration\\WS Resource Lifetime\\WS Resource Properties\\WS Security\\WS Service Group\\WS Transfer}
\mkrel{wss}{south west}{wssC}{verwendet}
\mkrel{wss}{south west}{wssD}{kombinierbar mit}
\mkrel{wss}{south west}{wssF}{empfiehlt}
\mkrel{wss}{south west}{wssG}{empfiehlt den\\Vorrang}

\mkbox{obx}{wssut}{413}{750}{559}{785}{\btl{WSS Username Token Profile}Version 1.1 01.02.2006 OASIS\\Beschreibt wie sich ein Anwender mittels UsernameToken\\in Verbindung mit WS-Security identifizieren, gegebenfalls\\einem Service Provider sicher anmelden kann.}
\mkbox{osx}{wssutB}{470}{730}{502}{738}{WS Security}
\mkext{wssutB}{wssut}{erweitert}{wssutE}
\mkbox{wbx}{wssutA}{447}{787}{509}{807}{WS Management\\WS Security Policy\\WS-I Basic Security Profile}
\mkrel{wssut}{south west}{wssutA}{verwendet}

\mkbox{obx}{wsssaml}{578}{747}{703}{783}{\btl{WSS SAML Token Profile}Version 1.1 01.02.2006 OASIS\\Beschreibt die Verwendung der Security Assertion\\Markup Language in Verbindung mit der\\WS-Security Spezifikation.}
\mkbox{osx}{wsssamlB}{624}{727}{656}{737}{WS Security}
\mkext{wsssamlB}{wsssaml}{erweitert}{wsssamlE}
\mkbox{wbx}{wsssamlA}{612}{785}{672}{800}{WS Security Policy\\WS-I SAML Token Profile}
\mkrel{wsssaml}{south west}{wsssamlA}{verwendet}

\mkbox{obx}{wssx}{435}{847}{535}{892}{\btl{WSS X.509\\Token Profile}Version 1.1 01.02.2006 OASIS\\beschreibt die Verwendung von X.509\\Authentifizierungs-Framework in Verbindung\\mit der WS-Security Spezifikation.}
\mkbox{osx}{wssxB}{469}{826}{500}{835}{WS Security}
\mkext{wssxB}{wssx}{erweitert}{wssxE}
\mkbox{wbx}{wssxA}{467}{895}{530}{915}{WS Management\\WS Security Policy\\WS-I Basic Security Profile}
\mkrel{wssx}{south west}{wssxA}{verwendet}

\mkbox{obx}{wssswa}{583}{849}{698}{889}{\btl{WSS SwA Profile}Version 1.1 06.2006 OASIS\\Definiert wie das Signieren und Verschlüsseln von\\SOAP Attachments unter der Verwendung von\\WS-Security durchgeführt, bzw. wie diese Anhänge\\vom Empfänger verarbeitet werden können.}
\mkbox{osx}{wssswaB}{625}{827}{656}{837}{WS-Security}
\mkext{wssswaB}{wssswa}{erweitert}{wssswaE}
\mkbox{wcx}{wssswaA}{615}{891}{677}{901}{WS-I Basic Security Profile}
\mkrel{wssswa}{south west}{wssswaA}{verwendet}

\mkbox{obx}{wssrel}{417}{958}{554}{998}{\btl{WSS Rights Expression\\Language Token Profile}Version 1.1 01.02.2006 OASIS\\Beschreibt die Verwendung der ISO/IEC 21000-5 Rights\\Expression in Verbindung mit der WS-Security Spezifikation.}
\mkbox{osx}{wssrelB}{470}{937}{502}{946}{WS Security}
\mkext{wssrelB}{wssrel}{erweitert}{wssrelE}
\mkbox{wcx}{wssrelA}{448}{1000}{503}{1010}{WS-I REL Token Profile}
\mkrel{wssrel}{south west}{wssrelA}{verwendet}

\mkbox{obx}{wsskt}{583}{958}{697}{998}{\btl{WSS Kerberos\\Token Profile}Version 1.1 01.02.2006 OASIS\\beschreibt die Verwendung von Kerberos Tokens\\in Verbindung mit der WS-Security Spezifikation.}
\mkbox{osx}{wssktB}{623}{937}{655}{946}{WS Security}
\mkext{wssktB}{wsskt}{erweitert}{wssktE}
\mkbox{wbx}{wssktA}{617}{1002}{683}{1016}{WS Security Policy\\WS-I Kerberos Token Profile}
\mkrel{wsskt}{south west}{wssktA}{verwendet}

\mkbox{obx}{wst}{765}{751}{877}{802}{\btl{WS Trust}02.2005 veröffentlicht\\Beschreibt eine auf WS-Security basierende\\SOAP-Erweiterung, die den Aufbau einer\\vertrauenswürdigen Kommunikation ermöglicht.\\Hierbei wird das Anfordern, Erneuern\\und Bestätigen von Sicherheitstoken zwischen\\Web Services und einem Sicherheitsdienst erfolgt.}
\mkbox{wbx}{wstA}{797}{705}{842}{728}{WS Addressing\\WS Policy\\WS Security Policy}
\mkbox{osx}{wstB}{804}{733}{836}{742}{WS Security}
\mkext{wstB}{wst}{erweitert}{wstE}
\mkrel{wst}{north west}{wstA}{verwendet}
\mkbox{osx}{wstC}{791}{813}{851}{828}{WS Federation\\WS Secure Conversation}
\mkext{wst}{wstC}{erweitert}{wstF}
\mkbox{wbx}{wstD}{805}{831}{861}{868}{WS Atomic Transaction\\WS Business Activity\\WS Coordination\\WS Eventing\\WS Metadata Exchange\\WS Management}
\mkbox{wbx}{wstG}{805}{871}{860}{891}{PSM4WS White Paper\\WS Reliable Messaging\\WS Transfer}
\mkrel{wst}{south west}{wstD}{verwendet}
\mkrel{wst}{south west}{wstG}{empfiehlt den\\Vorrang}

\mkbox{obx}{wssp}{883}{907}{1004}{952}{\btl{WS Security Policy}Version 1.1 07.2005 Draft veröffentlicht\\Definiert einen Rahmen zum Definieren von Regeln\\und Eigenschaften von Web Services. Hierbei wird die\\Art und Vorrichtungen zur Verwendung mit dem\\WS-Policy Framework sowie Darstellung der\\Sicherheitsaspekte anderer Spezifikationen definiert.}
\mkbox{wbx}{wsspA}{915}{863}{983}{903}{WS Policy Attachment\\WS Secure Conversation\\WS Security\\WSS Kerberos Token Profile\\WSS Username Token Profile\\WSS SAML Token Profile\\WSS X.509 Token Profile}
\mkrel{wssp}{north west}{wsspA}{verwendet}
\mkbox{wbx}{wsspB}{922}{955}{977}{988}{WS Atomic Transaction\\WS Business Activity\\WS Coordination\\WS Federation\\WS Metadata Exchange\\WS Trust}
\mkbox{wcx}{wsspC}{922}{993}{976}{1003}{WS Reliable Messaging}
\mkbox{wcx}{wsspD}{922}{1006}{948}{1015}{WS Policy}
\mkrel{wssp}{south west}{wsspB}{verwendet}
\mkrel{wssp}{south west}{wsspC}{empfiehlt den\\Vorrang}
\mkrel{wssp}{south west}{wsspD}{beinhaltet als\\Beispiel}

\mkbox{obx}{wssc}{1013}{748}{1143}{794}{\btl{WS Secure Conversation}02.2005 veröffentlicht\\Thema sind Performance beim Einrichten und\\Tokenaustausch von Sicherheitskontexten. Ein Abbilden\\von Sicherheitskontexten zu einem Sicherheitskontext.\\Ein Kontext wird immer dann benötigt, wenn mehrere\\Nachrichten ausgetauscht werden sollen.}
\mkbox{osx}{wsscB}{1062}{722}{1094}{737}{WS Security\\WS Trust}
\mkext{wsscB}{wssc}{erweitert}{wsscE}
\mkbox{wbx}{wsscA}{1054}{797}{1110}{833}{WS Atomic Transaction\\WS Business Activity\\WS Coordination\\WS Eventing\\WS Metadata Exchange\\WS Security Policy}
\mkbox{wbx}{wsscC}{1054}{836}{1109}{862}{PSM4WS White Paper\\WS Enumeration\\WS Reliable Messaging\\WS Transfer}
\mkbox{wbx}{wsscD}{1054}{865}{1116}{880}{WS Reliable Asynchronous\\\quad Messaging Profile}
\mkrel{wssc}{south west}{wsscA}{verwendet}
\mkrel{wssc}{south west}{wsscC}{empfiehlt den\\Vorrang}
\mkrel{wssc}{south west}{wsscD}{schränkt ein}

\mkbox{obx}{wsf}{1221}{793}{1336}{828}{\btl{WS Federation}Version 1.0 08.07.2003\\Eine virtuelle Vereinigung ermöglichte die Nutzung\\von Web Services über unterschiedliche\\Sicherheitsdomänen hinweg.}
\mkbox{wbx}{wsfA}{1251}{738}{1307}{759}{WS Metadata Exchange\\WS Policy Assertions\\WS Security Policy}
\mkbox{osx}{wsfB}{1262}{762}{1294}{782}{WS Policy\\WS Security\\WS Trust}
\mkext{wsfB}{wsf}{erweitert}{wsfE}
\mkrel{wsf}{north west}{wsfA}{verwendet}
\mkbox{osx}{wsfC}{1251}{840}{1305}{853}{WS Federation Active\\WS Federation Passive}
\mkext{wsf}{wsfC}{erweitert}{wsfF}
\mkbox{wcx}{wsfD}{1262}{857}{1314}{867}{PSM4WS White Paper}
\mkrel{wsf}{south west}{wsfD}{empfiehlt den\\Vorrang}

\mkbox{obx}{wsfa}{1226}{906}{1333}{941}{\btl{WS Federation Active}Version 1.0 08.07.2003\\Definiert wie das Federation-Modell bei\\aktiven Requestoren wie z.B. SOAP-fähigen\\Applikationen angewandt werden kann.}
\mkbox{osx}{wsfaB}{1261}{885}{1298}{895}{WS Federation}
\mkext{wsfaB}{wsfa}{erweitert}{wsfaE}

\mkbox{obx}{wsfp}{1221}{977}{1336}{1012}{\btl{WS Federation Passive}Version 1.0 08.07.2003\\Definiert wie das Federation-Modell bei\\passiven Requestoren wie z.B. Web Browser\\angewandt werden kann.}
\mkbox{osx}{wsfpB}{1261}{955}{1298}{965}{WS Federation}
\mkext{wsfpB}{wsfp}{erweitert}{wsfpE}

% ================= MESSAGING
\mkbox{obx}{wsac}{154}{1078}{266}{1113}{\btl{WS-Addressing Core}Version 1.0 09.05.2006 W3C\\Eine Referenz zu einem Web Service Endpunkt\\kann unter der Verwendung von WS-Addressing\\beschrieben und bearbeitet werden.}
\mkbox{osx}{wsacB}{175}{1123}{245}{1133}{WS Addressing SOAP Binding}
\mkext{wsac}{wsacB}{erweitert}{wsacE}
\mkbox{wbx}{wsacA}{202}{1137}{273}{1228}{WS Base Notification\\WS Brokered Notification\\WS BPEL\\WS Coordination\\WS Discovery\\WS Eventing\\WS Management\\WSDM Management using WS\\WS Metadata Exchange\\WS Policy Attachment\\WS Polling\\WS Resource\\WS Reliable Messaging\\WS Service Group\\WS Transfer\\WS Trust}
\mkbox{wcx}{wsacC}{202}{1231}{263}{1247}{WS Reliable Asynchronous\\Messaging Profile}
\mkbox{wcx}{wsacD}{202}{1249}{251}{1259}{PSM4WS WhitePaper}
\mkrel{wsac}{south west}{wsacA}{verwendet}
\mkrel{wsac}{south west}{wsacC}{schränkt ein}
\mkrel{wsac}{south west}{wsacD}{kombinierbar mit}

\mkbox{obx}{wsasb}{22}{1157}{134}{1203}{\btl{WS Addressing\\SOAP Binding}Version 1.0 09.05.2006 W3C\\beschreibt wie die WS-Addressing Core\\Spezifikation mittels SOAP Nachrichten\\angewandt werden kann.}
\mkbox{osx}{wsasbB}{53}{1136}{102}{1145}{WS Addressing Core}
\mkext{wsasbB}{wsasb}{erweitert}{wsasbE}

\mkbox{obx}{psm}{322}{1187}{467}{1221}{\btl{PSM4WS WhitePaper}Version 1.0 05.2005\\Das Publish-Subscribe Notification for Web Services White Paper\\beschreibt, wie das Notifikationsmuster in einer\\Web Service Architektur verwendet werden kann.}
\mkbox{wbx}{psmA}{367}{1113}{425}{1142}{WS-Coordination\\WS-Federation\\WS-ReliableMessaging\\WS-SecureConversation\\WS-Trust}
\mkbox{wbx}{psmB}{367}{1147}{421}{1184}{WS-Addressing\\WS-Policy\\WS-Resource\\WS-ResourceLifetime\\WS-ResourceProperties\\WS-Security}
\mkrel{psm}{north west}{psmA}{empfiehlt den\\Vorrang}
\mkrel{psm}{north west}{psmB}{kombinierbar mit}

\mkbox{obx}{wsbn}{480}{1119}{586}{1172}{\btl{WS Brokered\\Notification}Version 1.3 Committee Draft 21.07.2005 OASIS\\Definiert Web Service Interfaces für den\\Notification Broker. Dieser ist ein Vermittler,\\welcher den Nachrichtenaustausch mit ihren\\Notifikationsproduzenten ermöglicht.}
\mkbox{wcx}{wsbnA}{510}{1087}{548}{1096}{WS Addressing}
\mkbox{osx}{wsbnB}{507}{1100}{556}{1109}{WS Base Notification}
\mkext{wsbnB}{wsbn}{erweitert}{wsbnE}
\mkrel{wsbn}{north west}{wsbnA}{verwendet}

\mkbox{obx}{wsbno}{633}{1104}{740}{1147}{\btl{WS Base Notification}Version 1.3 Committee Draft 21.07.2005 OASIS\\Definiert Web Service Interfaces für\\Notification Producers und Consumers,\\welche die Basis-Rollen für den Notification-\\Message-Austausch festlegt werden.}
\mkbox{wcx}{wsbnoA}{671}{1075}{703}{1084}{WS Security}
\mkbox{wbx}{wsbnoB}{671}{1088}{710}{1102}{WS Addressing\\WS Topics}
\mkrel{wsbno}{north west}{wsbnoA}{empfiehlt den\\Vorrang}
\mkrel{wsbno}{north west}{wsbnoB}{verwendet}
\mkbox{osx}{wsbnoC}{657}{1156}{718}{1166}{WS Brokered Notification}
\mkext{wsbno}{wsbnoC}{erweitert}{wsbnoE}
\mkbox{wbx}{wsbnoD}{663}{1169}{732}{1184}{WSDM Management using WS\\WS Resource Properties}
\mkrel{wsbno}{south west}{wsbnoD}{verwendet}

\mkbox{obx}{wstp}{556}{1203}{661}{1238}{\btl{WS Topics}Version 1.2 Committee Draft 21.07.2005 OASIS\\Definiert Mechanismen zur Organisation und\\Kategorisierung von Abonnements\\interessanter Elemente.}
\mkbox{wbx}{wstpA}{588}{1240}{645}{1256}{WS-BaseNotification\\WS-BrokeredNotification}
\mkrel{wstp}{south west}{wstpA}{verwendet}

\mkbox{obx}{wsen}{777}{1102}{917}{1137}{\btl{WS Enumeration}09.2004 veröffentlicht\\beschreibt ein SOAP-basiertes Protokoll zur Enumeration\\einer Sequenz von XML-Elementen wie Logs, Message-Queues\\oder anderen linearen Informationsquellen.}
\mkbox{wbx}{wsenA}{814}{1083}{872}{1098}{WS Secure Conversation\\WS Security}
\mkbox{wcx}{wsenB}{814}{1140}{856}{1149}{WS Management}
\mkrel{wsen}{north west}{wsenA}{empfiehlt den\\Vorrang}
\mkrel{wsen}{south west}{wsenB}{verwendet}

\mkbox{obx}{wsev}{935}{1101}{1085}{1141}{\btl{WS Eventing}08.2004 veröffentlicht\\Eventing ermöglicht, das Verwenden des Observer Design Patterns\\bei Web Services. Das Web Services Eventing Protokoll definiert\\Nachrichten zum Subskribieren an einer Eventquelle, zum Erneuern\\einer Subskription und zum Senden von Mitteilungen.}
\mkbox{wbx}{wsevA}{966}{1073}{1023}{1098}{WS Addressing\\WS Secure Conversation\\WS Security\\WS Trust}
\mkbox{wcx}{wsevB}{966}{1143}{1008}{1153}{WS Management}
\mkrel{wsev}{north west}{wsevA}{verwendet}
\mkrel{wsev}{south west}{wsevB}{verwendet}

\mkbox{obx}{wspl}{776}{1198}{921}{1239}{\btl{WS Polling}Version 1.0 09.2005 veröffentlicht\\Diese Spezifikation definiert, wie Nachrichten durch welchen\\als Endpunkt eine Verbindung zu einem anderen Endpunkt\\initialisiert, um es dem anderen zu ermöglichen, Nachrichten\\vom Endpunkt an eine Warteschlange zu senden.}
\mkbox{wcx}{wsplA}{809}{1173}{840}{1182}{WS-Security}
\mkbox{wcx}{wsplB}{809}{1186}{846}{1195}{WS-Addressing}
\mkrel{wspl}{north west}{wsplA}{empfiehlt}
\mkrel{wspl}{north west}{wsplB}{verwendet}

\mkbox{obx}{wsmd}{934}{1198}{1087}{1234}{\btl{WS Message Delivery}Version 1.0 04.2004 veröffentlicht\\Unter der vorläufigen Referenzierung eines Web Services und\\die Erweiterung von Endpunkten für Web Services bezogen\\basierend auf einheitliche Prozesse.}

% ================= RELIABILITY
\mkbox{obx}{wsrm}{1183}{1119}{1298}{1155}{\btl{WS Reliable Messaging}02.2005 veröffentlicht\\Definiert ein Protokoll zur zuverlässigen\\Übertragung einer Sequenz von Nachrichten\\zwischen einer Quelle und einem Ziel.}
\mkbox{wcx}{wsrmA}{1225}{1078}{1262}{1088}{WS Addressing}
\mkbox{wbx}{wsrmB}{1225}{1092}{1285}{1117}{WS Policy\\WS Reliable Asynchronous\\WS Security Policy\\WS Trust}
\mkrel{wsrm}{north west}{wsrmA}{verwendet}
\mkrel{wsrm}{north west}{wsrmB}{empfiehlt den\\Vorrang}
\mkbox{wcx}{wsrmC}{1225}{1158}{1278}{1168}{PSM4WS White Paper}
\mkbox{wcx}{wsrmD}{1226}{1170}{1262}{1179}{WS RM Policy}
\mkrel{wsrm}{south west}{wsrmC}{empfiehlt den\\Vorrang}
\mkrel{wsrm}{south west}{wsrmD}{verwendet}

\mkbox{obx}{wsrel}{1192}{1213}{1290}{1248}{\btl{WS Reliability}Version 1.1 15.11.2004 OASIS\\Ziel ist, garantierte Zustellung, doppelte\\Nachrichteneliminierung und geordnete\\Nachrichtenzustellung basierend auf SOAP.}
\mkbox{wcx}{wsrelA}{1222}{1200}{1254}{1209}{WS Security}
\mkrel{wsrel}{north west}{wsrelA}{empfiehlt}
\end{tikzpicture}
\end{document}
